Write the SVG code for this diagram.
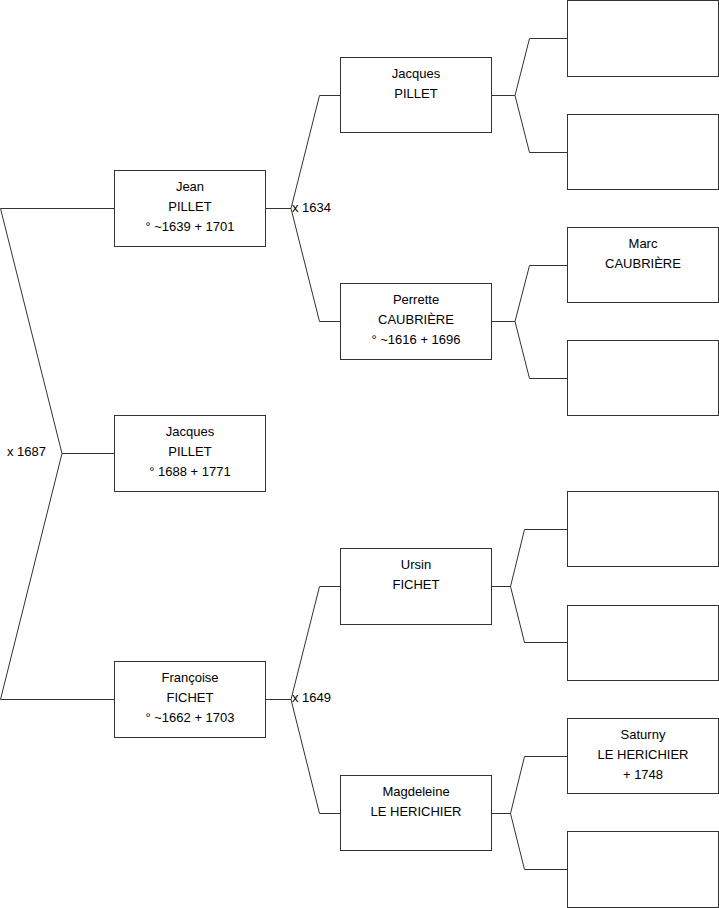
<svg xmlns="http://www.w3.org/2000/svg" width="719" height="908" viewBox="0 0 719 908">
<style>
rect.b{fill:#fff;stroke:#333;stroke-width:1}
.c path{fill:none;stroke:#333;stroke-width:1}
text{font-family:"Liberation Sans",Arial,sans-serif;font-size:13px;fill:#000}
.m{text-anchor:middle}
</style>
<rect width="719" height="908" fill="#fff"/>
<g class="c" id="connectors">
<path d="M114.5,208.5H0.5L62,453.5L0.5,699.5H114.5M62,453.5H114.5"/>
<text x="7" y="456">x 1687</text>
<path d="M265.5,208.5H291L319.5,95.5H340.5M291,208.5L319.5,321.5H340.5"/>
<text x="292" y="212">x 1634</text>
<path d="M265.5,699.5H291L319.5,586.5H340.5M291,699.5L319.5,813.5H340.5"/>
<text x="292" y="702">x 1649</text>
<path d="M491.5,95.5H515L529.5,38.5H567.5M515,95.5L529.5,152.5H567.5"/>
<path d="M491.5,321.5H515L529.5,265.5H567.5M515,321.5L529.5,378.5H567.5"/>
<path d="M491.5,586.5H510.5L524.5,529.5H567.5M510.5,586.5L524.5,642.5H567.5"/>
<path d="M491.5,813.5H510.5L524.5,756.5H567.5M510.5,813.5L524.5,869.5H567.5"/>
</g>
<g id="jean">
<rect class="b" x="114.5" y="170.5" width="151" height="76"/>
<text class="m" x="190" y="191">Jean</text>
<text class="m" x="190" y="211">PILLET</text>
<text class="m" x="190" y="231">° ~1639 + 1701</text>
</g>
<g id="jacques-child">
<rect class="b" x="114.5" y="415.5" width="151" height="76"/>
<text class="m" x="190" y="436">Jacques</text>
<text class="m" x="190" y="456">PILLET</text>
<text class="m" x="190" y="476">° 1688 + 1771</text>
</g>
<g id="francoise">
<rect class="b" x="114.5" y="661.5" width="151" height="76"/>
<text class="m" x="190" y="682">Françoise</text>
<text class="m" x="190" y="702">FICHET</text>
<text class="m" x="190" y="722">° ~1662 + 1703</text>
</g>
<g id="jacques-father">
<rect class="b" x="340.5" y="57.5" width="151" height="75"/>
<text class="m" x="416" y="78">Jacques</text>
<text class="m" x="416" y="98">PILLET</text>
</g>
<g id="perrette">
<rect class="b" x="340.5" y="283.5" width="151" height="76"/>
<text class="m" x="416" y="304">Perrette</text>
<text class="m" x="416" y="324">CAUBRIÈRE</text>
<text class="m" x="416" y="344">° ~1616 + 1696</text>
</g>
<g id="ursin">
<rect class="b" x="340.5" y="548.5" width="151" height="76"/>
<text class="m" x="416" y="569">Ursin</text>
<text class="m" x="416" y="589">FICHET</text>
</g>
<g id="magdeleine">
<rect class="b" x="340.5" y="775.5" width="151" height="75"/>
<text class="m" x="416" y="796">Magdeleine</text>
<text class="m" x="416" y="816">LE HERICHIER</text>
</g>
<g id="g3-1"><rect class="b" x="567.5" y="0.5" width="151" height="76"/></g>
<g id="g3-2"><rect class="b" x="567.5" y="114.5" width="151" height="75"/></g>
<g id="marc">
<rect class="b" x="567.5" y="227.5" width="151" height="75"/>
<text class="m" x="643" y="248">Marc</text>
<text class="m" x="643" y="268">CAUBRIÈRE</text>
</g>
<g id="g3-4"><rect class="b" x="567.5" y="340.5" width="151" height="75"/></g>
<g id="g3-5"><rect class="b" x="567.5" y="491.5" width="151" height="75"/></g>
<g id="g3-6"><rect class="b" x="567.5" y="605.5" width="151" height="75"/></g>
<g id="saturny">
<rect class="b" x="567.5" y="718.5" width="151" height="75"/>
<text class="m" x="643" y="739">Saturny</text>
<text class="m" x="643" y="759">LE HERICHIER</text>
<text class="m" x="643" y="779">+ 1748</text>
</g>
<g id="g3-8"><rect class="b" x="567.5" y="831.5" width="151" height="76"/></g>
</svg>
